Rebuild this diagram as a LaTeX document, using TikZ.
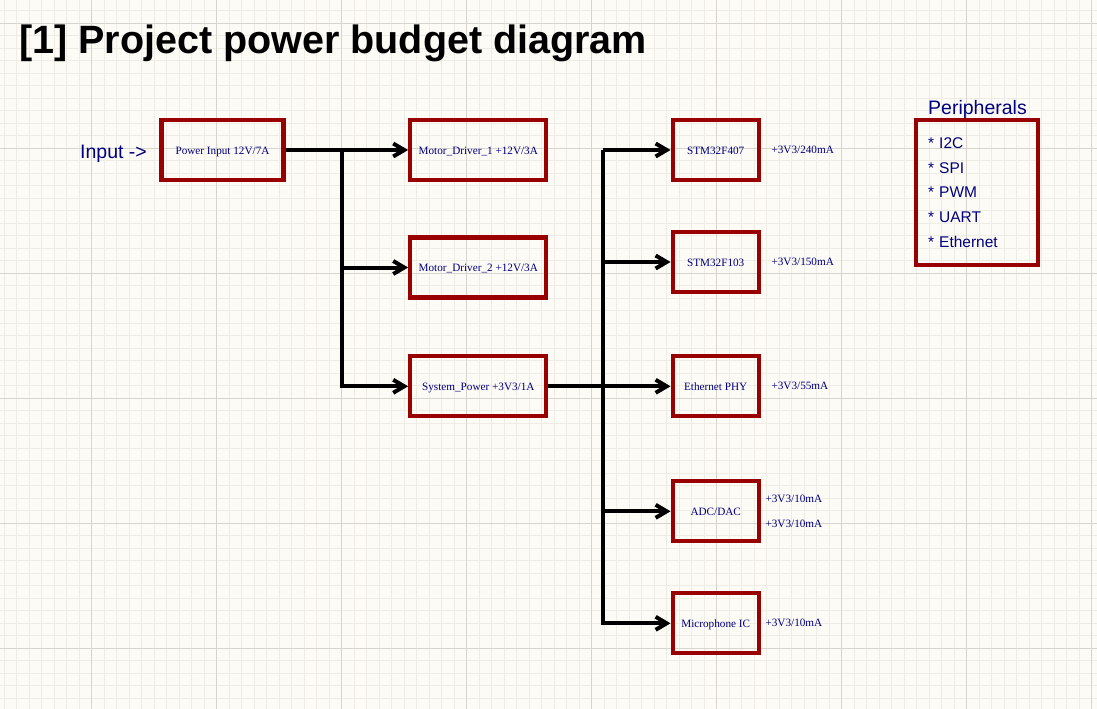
\documentclass[tikz,border=0pt]{standalone}
\usepackage{fontspec}
\setmainfont{Liberation Serif}
\newfontfamily\labelsans{Liberation Sans}
\usetikzlibrary{arrows.meta,positioning}

\definecolor{boxred}{RGB}{153,0,0}
\definecolor{navytext}{RGB}{0,0,128}
\definecolor{sheet}{RGB}{253,251,245}
\definecolor{gridminor}{RGB}{238,236,228}
\definecolor{gridmajor}{RGB}{216,213,207}

\begin{document}
\begin{tikzpicture}[%
    x=1pt, y=-1pt,              % Pixel-like coordinates, y grows downwards
    >={Straight Barb[length=11pt,width=13pt]},
    node distance=118pt and 256pt,
    every node/.style={text=navytext},
    ]
% -------------------------------------------------
% Box, wire and label styles
\tikzset{
  base/.style={draw=boxred, line width=4.3pt, on grid, minimum height=60pt,
               font=\fontsize{11.2}{13}\selectfont},
  oneline/.style={base, text height=8pt, text depth=0pt},
  srcbox/.style={oneline, minimum width=122pt},
  drvbox/.style={oneline, minimum width=136pt},
  icbox/.style={oneline, minimum width=86pt},
  listbox/.style={base, minimum width=122pt, minimum height=145pt,
                  text width=98pt, align=left, inner xsep=0pt,
                  font=\labelsans\fontsize{15.5}{24.8}\selectfont},
  % Connector and text styles
  wire/.style={->, draw=black, line width=4pt},
  pw/.style={font=\fontsize{11.2}{13}\selectfont, inner sep=0pt},
  sans/.style={anchor=base west, inner sep=0pt,
               font=\labelsans\fontsize{19.5}{23}\selectfont},
  minorline/.style={draw=gridminor, line width=0.9pt},
  majorline/.style={draw=gridmajor, line width=0.9pt}
}
% -------------------------------------------------
% Sheet with its grid
\useasboundingbox (0,0) rectangle (1097,709);
\fill[sheet] (0,0) rectangle (1097,709);
\foreach \i in {-7,...,80}
  \draw[minorline] ({91.8+12.5*\i},0) -- ++(0,709);
\foreach \j in {-1,...,55}
  \draw[minorline] (0,{23.3+12.5*\j}) -- ++(1097,0);
\foreach \i in {-1,...,8}
  \draw[majorline] ({91.8+125*\i},0) -- ++(0,709);
\foreach \j in {0,...,5}
  \draw[majorline] (0,{23.3+125*\j}) -- ++(1097,0);

% -------------------------------------------------
% Titles
\node[anchor=base west, inner sep=0pt, text=black,
      font=\labelsans\bfseries\fontsize{39.5}{46}\selectfont]
  (title) at (19,53.3) {[1] Project power budget diagram};
\node[sans] (inlbl) at (80,158) {Input ->};
\node[sans] (ptitle) at (928,114) {Peripherals};

% -------------------------------------------------
% Start by placing the boxes
\node[srcbox] (pin) at (222.5,150) {Power Input 12V/7A};
\node[drvbox, right=255.8pt of pin] (md1) {Motor\_Driver\_1 +12V/3A};
\node[drvbox, below=117.5pt of md1] (md2) {Motor\_Driver\_2 +12V/3A};
\node[drvbox, below=118.8pt of md2] (sys) {System\_Power +3V3/1A};
\node[icbox, right=237.4pt of md1] (f407) {STM32F407};
\node[icbox, below=112pt of f407] (f103) {STM32F103};
\node[icbox, right=237.4pt of sys] (phy) {Ethernet PHY};
\node[icbox, below=125pt of phy] (adc) {ADC/DAC};
\node[icbox, below=112pt of adc] (mic) {Microphone IC};
\node[listbox] (periph) at (977,192.5)
  {* I2C\\{}* SPI\\{}* PWM\\{}* UART\\{}* Ethernet};

% Current labels next to the loads
\node[pw, right=10.5pt of f407.east] (l407) {+3V3/240mA};
\node[pw, right=10.5pt of f103.east] (l103) {+3V3/150mA};
\node[pw, right=10.5pt of phy.east] (lphy) {+3V3/55mA};
\node[pw, right=4.5pt of adc.east, yshift=12pt] (ladc1) {+3V3/10mA};
\node[pw, right=4.5pt of adc.east, yshift=-13pt] (ladc2) {+3V3/10mA};
\node[pw, right=4.5pt of mic.east] (lmic) {+3V3/10mA};

% -------------------------------------------------
% Power rails
\coordinate (busA) at (341.8,150);
\coordinate (busB) at (602.7,150);
\draw[wire] (pin.east) -- (md1.west);
\draw[wire] (busA) |- (sys.west);
\draw[wire] (busA |- md2.west) -- (md2.west);
\draw[wire] (sys.east) -- (phy.west);
\draw[wire] (busB) -- (f407.west);
\draw[wire] (busB) |- (mic.west);
\draw[wire] (busB |- f103.west) -- (f103.west);
\draw[wire] (busB |- adc.west) -- (adc.west);

% -------------------------------------------------
\end{tikzpicture}
\end{document}
